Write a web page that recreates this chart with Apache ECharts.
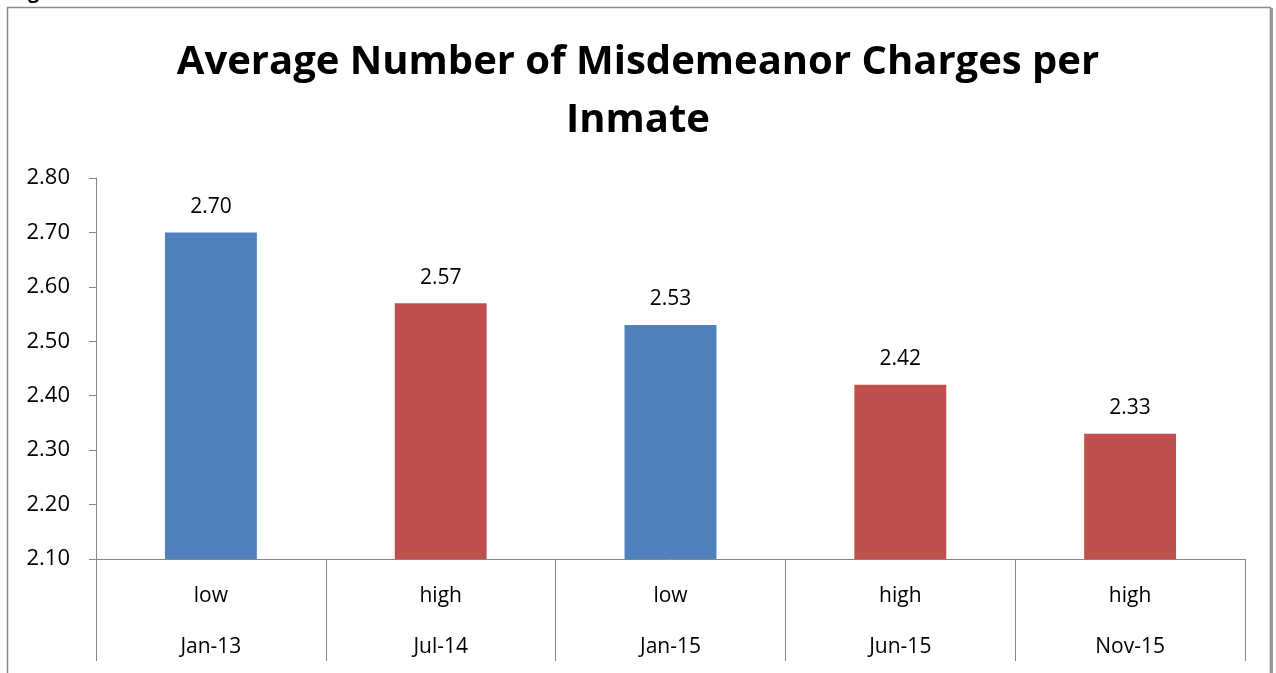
<!DOCTYPE html>
<html>
<head>
<meta charset="utf-8">
<script src="https://cdn.jsdelivr.net/npm/echarts@6/dist/echarts.min.js"></script>
<style>
  html, body { margin: 0; padding: 0; background: #fff; }
  #chart { width: 1276px; height: 673px; }
</style>
</head>
<body>
<div id="chart"></div>
<script>
var dates = ["Jan-13", "Jul-14", "Jan-15", "Jun-15", "Nov-15"];
var levels = ["low", "high", "low", "high", "high"];
var values = [2.70, 2.57, 2.53, 2.42, 2.33];
var levelColors = { low: "#4F81BD", high: "#C0504D" };

var font = "'Open Sans', 'Noto Sans', sans-serif";

var chart = echarts.init(document.getElementById("chart"));

var option = {
  animation: false,
  title: {
    text: "Average Number of Misdemeanor Charges per\nInmate",
    left: "center",
    top: 29,
    textStyle: {
      fontFamily: font,
      fontSize: 40,
      fontWeight: "bold",
      color: "#000",
      lineHeight: 58
    }
  },
  graphic: [
    {
      type: "rect",
      shape: { x: 7.5, y: 7.5, width: 1263, height: 700 },
      style: { fill: "none", stroke: "#8a8a8a", lineWidth: 1.5 }
    },
    {
      type: "rect",
      shape: { x: 1271, y: 8, width: 2, height: 700 },
      style: { fill: "#9a9a9a" }
    },
    {
      type: "text",
      left: 28,
      top: -18,
      style: { text: "g", font: "bold 20px " + font, fill: "#000" }
    }
  ],
  grid: { left: 96, right: 31, top: 178, bottom: 109 },
  xAxis: {
    type: "category",
    data: dates,
    axisLine: { lineStyle: { color: "#868686", width: 1 } },
    axisTick: { show: true, length: 102, lineStyle: { color: "#868686" } },
    axisLabel: {
      margin: 12,
      fontFamily: font,
      fontSize: 21,
      color: "#000",
      lineHeight: 51,
      formatter: function (v, i) { return levels[i] + "\n" + v; }
    }
  },
  yAxis: {
    type: "value",
    min: 2.1,
    max: 2.8,
    interval: 0.1,
    axisLine: { show: true, lineStyle: { color: "#868686", width: 1 } },
    axisTick: { show: true, length: 7, lineStyle: { color: "#868686" } },
    splitLine: { show: false },
    axisLabel: {
      margin: 26,
      fontFamily: font,
      fontSize: 22,
      color: "#000",
      formatter: function (v) { return v.toFixed(2); }
    }
  },
  series: [
    {
      type: "bar",
      barWidth: "40%",
      data: values.map(function (v, i) {
        return { value: v, itemStyle: { color: levelColors[levels[i]] } };
      }),
      label: {
        show: true,
        position: "top",
        distance: 15,
        fontFamily: font,
        fontSize: 21,
        color: "#000",
        formatter: function (p) { return p.value.toFixed(2); }
      }
    }
  ]
};

chart.setOption(option);
</script>
</body>
</html>
